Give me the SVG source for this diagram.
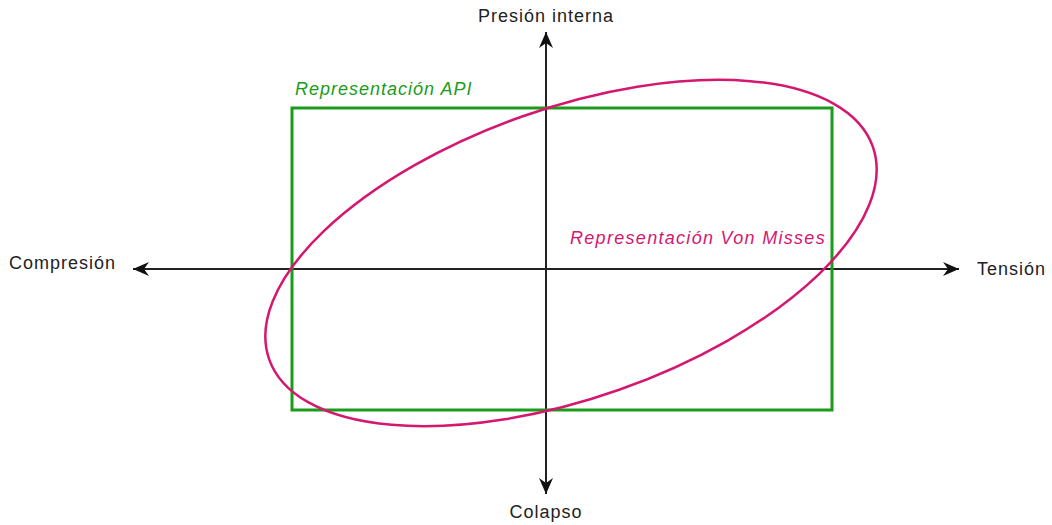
<svg xmlns="http://www.w3.org/2000/svg" width="1052" height="525" viewBox="0 0 1052 525">
<style>
.lbl{font-family:"Liberation Sans",Arial,sans-serif;font-size:18px;letter-spacing:1px;fill:#222}
.it{font-style:italic}
.axis{stroke:#222;stroke-width:2;fill:none}
</style>
<defs>
<marker id="arr" viewBox="-17 -8 18 16" refX="0" refY="0" markerWidth="18" markerHeight="16" markerUnits="userSpaceOnUse" orient="auto-start-reverse">
<path d="M0,0 L-16,-7 L-11,0 L-16,7 Z" fill="#111"/>
</marker>
</defs>
<rect width="1052" height="525" fill="#fff"/>
<g id="connectors">
<line class="axis" x1="133" y1="269" x2="959" y2="269" marker-start="url(#arr)" marker-end="url(#arr)"/>
<line class="axis" x1="546" y1="32" x2="546" y2="494" marker-start="url(#arr)" marker-end="url(#arr)"/>
</g>
<g id="api">
<rect x="292" y="108" width="540" height="302" fill="none" stroke="#1a9c1a" stroke-width="3"/>
<text class="lbl it" x="295" y="95" style="fill:#1a9c1a;letter-spacing:1px">Representación API</text>
</g>
<g id="vonmisses">
<ellipse cx="571" cy="253" rx="320" ry="145" transform="rotate(-19.4 571 253)" fill="none" stroke="#d4176f" stroke-width="2.5"/>
<text class="lbl it" x="570" y="244" style="fill:#d4176f;letter-spacing:1.3px">Representación Von Misses</text>
</g>
<g id="label-presion"><text class="lbl" x="546" y="22" text-anchor="middle">Presión interna</text></g>
<g id="label-compresion"><text class="lbl" x="9" y="269">Compresión</text></g>
<g id="label-tension"><text class="lbl" x="977" y="275">Tensión</text></g>
<g id="label-colapso"><text class="lbl" x="546" y="518" text-anchor="middle">Colapso</text></g>
</svg>
